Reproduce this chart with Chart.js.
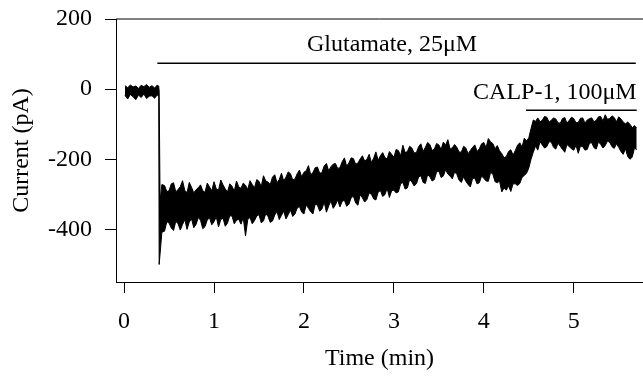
<!DOCTYPE html>
<html>
<head>
<meta charset="utf-8">
<script src="https://cdn.jsdelivr.net/npm/chart.js@4.4.1/dist/chart.umd.min.js"></script>
<style>
  body { margin: 0; background: #fff; }
  canvas { display: block; }
</style>
</head>
<body>
<canvas id="grafico" width="643" height="381"></canvas>
<script>
// trace: time (min) and upper / lower edge of the noisy current (pA)
let timeMin = [0.01, 0.04, 0.07, 0.10, 0.13, 0.16, 0.19, 0.22, 0.25, 0.28, 0.31, 0.34, 0.37, 0.385,
  0.39, 0.40, 0.42,
  0.45, 0.475, 0.50, 0.525, 0.55, 0.575, 0.60, 0.625, 0.65, 0.675,
  0.70, 0.725, 0.75, 0.775, 0.80, 0.825, 0.85, 0.875, 0.90, 0.925,
  0.95, 0.975, 1.00, 1.025, 1.05, 1.075, 1.10, 1.125, 1.15, 1.175,
  1.20, 1.225, 1.25, 1.275, 1.30, 1.325, 1.35, 1.375, 1.40, 1.425,
  1.45, 1.475, 1.50, 1.525, 1.55, 1.575, 1.60, 1.625, 1.65, 1.675,
  1.70, 1.725, 1.75, 1.775, 1.80, 1.825, 1.85, 1.875, 1.90, 1.925,
  1.95, 1.975, 2.00, 2.025, 2.05, 2.075, 2.10, 2.125, 2.15, 2.175,
  2.20, 2.225, 2.25, 2.275, 2.30, 2.325, 2.35, 2.375, 2.40, 2.425,
  2.45, 2.475, 2.50, 2.525, 2.55, 2.575, 2.60, 2.625, 2.65, 2.675,
  2.70, 2.725, 2.75, 2.775, 2.80, 2.825, 2.85, 2.875, 2.90, 2.925,
  2.95, 2.975, 3.00, 3.025, 3.05, 3.075, 3.10, 3.125, 3.15, 3.175,
  3.20, 3.225, 3.25, 3.275, 3.30, 3.325, 3.35, 3.375, 3.40, 3.425,
  3.45, 3.475, 3.50, 3.525, 3.55, 3.575, 3.60, 3.625, 3.65, 3.675,
  3.70, 3.725, 3.75, 3.775, 3.80, 3.825, 3.85, 3.875, 3.90, 3.925,
  3.95, 3.975, 4.00, 4.025, 4.05, 4.075, 4.10, 4.125, 4.15, 4.175,
  4.20, 4.225, 4.25, 4.275, 4.30, 4.325, 4.35, 4.375, 4.40, 4.425,
  4.45, 4.475, 4.50, 4.525, 4.55, 4.575, 4.60, 4.625, 4.65, 4.675,
  4.70, 4.725, 4.75, 4.775, 4.80, 4.825, 4.85, 4.875, 4.90, 4.925,
  4.95, 4.975, 5.00, 5.025, 5.05, 5.075, 5.10, 5.125, 5.15, 5.175,
  5.20, 5.225, 5.25, 5.275, 5.30, 5.325, 5.35, 5.375, 5.40, 5.425,
  5.45, 5.475, 5.50, 5.525, 5.55, 5.575, 5.60, 5.625, 5.65, 5.675,
  5.70];

let upperPA = [10, 4, 12, 6, 9, 2, 11, 7, 13, 5, 10, 3, 12, 8,
  -5, -320, -272,
  -275, -292, -290, -270, -267, -293, -286, -278, -261, -289,
  -295, -266, -280, -296, -287, -281, -273, -290, -294, -268,
  -279, -290, -264, -284, -288, -259, -273, -285, -293, -270,
  -277, -291, -262, -279, -283, -268, -274, -286, -261, -272,
  -281, -258, -263, -278, -247, -262, -265, -272, -251, -244,
  -267, -258, -240, -262, -251, -236, -241, -259, -256, -241,
  -231, -250, -237, -233, -218, -244, -238, -224, -222, -240,
  -238, -219, -212, -233, -221, -214, -212, -226, -224, -207,
  -196, -220, -210, -196, -198, -214, -211, -199, -190, -205,
  -200, -186, -209, -197, -179, -203, -190, -181, -195, -199,
  -178, -186, -194, -172, -175, -190, -160, -181, -178, -163,
  -168, -182, -181, -164, -156, -178, -166, -152, -158, -175,
  -171, -155, -159, -172, -151, -160, -144, -171, -167, -158,
  -166, -179, -180, -163, -168, -184, -175, -166, -159, -178,
  -170, -156, -152, -167, -141, -150, -155, -170, -161, -176,
  -184, -196, -192, -178, -173, -188, -175, -160, -153, -165,
  -140, -148, -139, -112, -88, -92, -82, -93, -89, -78,
  -80, -94, -89, -82, -85, -96, -97, -84, -81, -97,
  -89, -80, -84, -96, -95, -83, -82, -97, -88, -84,
  -82, -93, -89, -79, -78, -91, -73, -86, -84, -76,
  -81, -93, -79, -85, -94, -99, -94, -100, -110, -104,
  -111];

let lowerPA = [-18, -28, -15, -22, -30, -17, -24, -14, -27, -20, -19, -26, -16, -22,
  -500, -470, -408,
  -405, -378, -382, -396, -403, -377, -384, -402, -386, -372,
  -400, -379, -370, -395, -386, -366, -374, -398, -392, -373,
  -367, -387, -378, -364, -393, -372, -368, -391, -382, -361,
  -362, -384, -374, -371, -385, -366, -419, -372, -366, -384,
  -375, -362, -358, -381, -376, -355, -363, -380, -376, -359,
  -349, -372, -360, -348, -370, -358, -345, -363, -356, -339,
  -335, -351, -356, -330, -340, -350, -356, -328, -331, -348,
  -342, -322, -351, -333, -319, -340, -330, -316, -336, -320,
  -317, -334, -328, -310, -305, -325, -331, -301, -310, -322,
  -315, -296, -300, -313, -316, -294, -289, -306, -301, -283,
  -309, -290, -288, -296, -293, -270, -266, -285, -282, -258,
  -265, -276, -270, -251, -247, -266, -269, -244, -250, -262,
  -258, -236, -234, -252, -248, -230, -242, -248, -256, -236,
  -243, -260, -266, -250, -263, -272, -279, -255, -254, -270,
  -267, -248, -254, -262, -263, -238, -242, -264, -267, -262,
  -293, -282, -288, -276, -292, -270, -270, -275, -269, -252,
  -246, -240, -225, -200, -180, -162, -174, -150, -159, -168,
  -164, -150, -151, -166, -171, -154, -163, -172, -180, -158,
  -164, -170, -174, -160, -183, -162, -164, -174, -172, -154,
  -153, -167, -171, -150, -158, -168, -161, -148, -152, -164,
  -169, -156, -166, -178, -186, -170, -192, -200, -194, -168,
  -173];

// drug application bars
let drugNames = ['Glutamate, 25μM', 'CALP-1, 100μM'];
let glutamateTime = [0.37, 5.69];
let glutamateLevel = [74, 74];
let calpTime = [4.47, 5.70];
let calpLevel = [-60, -60];

let xTicks = [0, 1, 2, 3, 4, 5];
let yTicks = [200, 0, -200, -400];

let serif = 'Liberation Serif';

function pontos(xs, ys) {
  return xs.map((x, i) => ({x: x, y: ys[i]}));
}

// top frame line and the drug labels
let extras = {
  id: 'extras',
  afterDraw(chart) {
    let ctx = chart.ctx;
    let sx = chart.scales.x, sy = chart.scales.y, a = chart.chartArea;
    ctx.save();
    ctx.strokeStyle = '#000';
    ctx.lineWidth = 1;
    ctx.beginPath();
    ctx.moveTo(a.left, sy.getPixelForValue(200));
    ctx.lineTo(a.right, sy.getPixelForValue(200));
    ctx.stroke();
    ctx.fillStyle = '#000';
    ctx.font = '24px "' + serif + '"';
    ctx.textAlign = 'center';
    ctx.textBaseline = 'alphabetic';
    ctx.fillText(drugNames[0], sx.getPixelForValue(2.98), sy.getPixelForValue(108));
    ctx.fillText(drugNames[1], sx.getPixelForValue(4.79), sy.getPixelForValue(-29));
    ctx.restore();
  }
};

let grafico = document.getElementById('grafico').getContext('2d');
let chart = new Chart(grafico, {
  type: 'line',
  data: {
    datasets: [
      {label: 'upper', data: pontos(timeMin, upperPA), borderColor: '#000', borderWidth: 1, pointRadius: 0, fill: false},
      {label: 'lower', data: pontos(timeMin, lowerPA), borderColor: '#000', borderWidth: 1, pointRadius: 0, fill: '-1', backgroundColor: '#000'},
      {label: 'glutamate', data: pontos(glutamateTime, glutamateLevel), borderColor: '#000', borderWidth: 1.5, pointRadius: 0, fill: false},
      {label: 'calp', data: pontos(calpTime, calpLevel), borderColor: '#000', borderWidth: 1.5, pointRadius: 0, fill: false}
    ]
  },
  options: {
    responsive: false,
    animation: false,
    layout: {padding: {top: 19, left: 0, right: 0, bottom: 0}},
    plugins: {legend: {display: false}, tooltip: {enabled: false}},
    scales: {
      x: {
        type: 'linear', min: -0.09, max: 5.77,
        afterBuildTicks: s => { s.ticks = xTicks.map(v => ({value: v})); },
        afterFit: s => { s.height = 99; s.paddingLeft = 0; s.paddingRight = 0; },
        grid: {drawOnChartArea: false, drawTicks: true, tickLength: 11, color: '#000'},
        border: {display: true, color: '#000', width: 1},
        ticks: {color: '#000', font: {family: serif, size: 24}, padding: 14, maxRotation: 0, callback: v => String(v)},
        title: {display: true, text: 'Time (min)', color: '#000', font: {family: serif, size: 24}, padding: {top: 0, bottom: 8}}
      },
      y: {
        type: 'linear', min: -550, max: 200,
        afterBuildTicks: s => { s.ticks = yTicks.map(v => ({value: v})); },
        afterFit: s => { s.width = 116; s.paddingTop = 0; s.paddingBottom = 0; },
        grid: {drawOnChartArea: false, drawTicks: true, tickLength: 11, color: '#000'},
        border: {display: true, color: '#000', width: 1},
        ticks: {color: '#000', font: {family: serif, size: 24}, padding: 13, callback: v => String(v)},
        title: {display: true, text: 'Current (pA)', color: '#000', font: {family: serif, size: 24}, padding: {top: 7, bottom: 0}}
      }
    }
  },
  plugins: [extras]
});
</script>
</body>
</html>
